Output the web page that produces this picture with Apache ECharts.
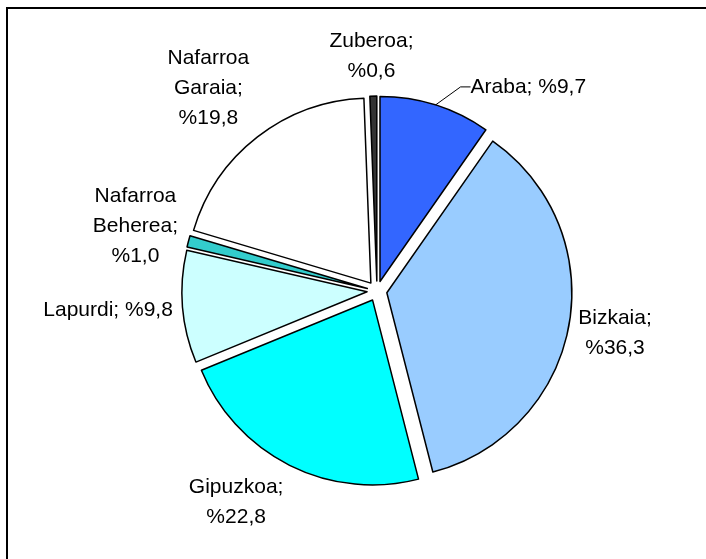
<!DOCTYPE html>
<html><head><meta charset="utf-8">
<script src="https://cdn.jsdelivr.net/npm/echarts@6/dist/echarts.min.js"></script>
<style>html,body{margin:0;padding:0;background:#fff}#c{width:706px;height:559px}</style>
</head><body><div id="c"></div>
<script>
// ---- data ----
const categories = ['Araba', 'Bizkaia', 'Gipuzkoa', 'Lapurdi', 'Nafarroa Beherea', 'Nafarroa Garaia', 'Zuberoa'];
const shares = [9.7, 36.3, 22.8, 9.8, 1.0, 19.8, 0.6];
const colors = ['#3366FF', '#99CCFF', '#00FFFF', '#CCFFFF', '#33CCCC', '#FFFFFF', '#333333'];

// ---- label text (line breaks) ----
const labelNames = ['Araba', 'Bizkaia', 'Gipuzkoa', 'Lapurdi', 'Nafarroa\nBeherea', 'Nafarroa\nGaraia', 'Zuberoa'];
const labelSeps = [' ', '\n', '\n', ' ', '\n', '\n', '\n'];

// ---- layout config ----
const CX = 377, CY = 291, R = 185, OFF = 10, GAP = 5;
const labelNudge = [[74, 1], [5, 1], [-30, 6], [-5, 2], [-7, -2], [-21, -9], [-1, -5]];

const total = shares.reduce((a, b) => a + b, 0);
let acc = 0;
const mids = shares.map(v => { const m = (acc + v / 2) / total * 2 * Math.PI; acc += v; return m; });

const chart = echarts.init(document.getElementById('c'));
chart.setOption({
  animation: false,
  backgroundColor: '#fff',
  graphic: [{
    type: 'rect', silent: true, z: 100,
    shape: {x: 7, y: 8, width: 760, height: 620},
    style: {fill: 'none', stroke: '#000', lineWidth: 2}
  }],
  // one pie per slice so that each slice is pulled out along its own bisector
  series: shares.map((_, k) => ({
    type: 'pie',
    name: categories[k],
    center: [CX + OFF * Math.sin(mids[k]), CY - OFF * Math.cos(mids[k])],
    radius: R,
    startAngle: 90,
    clockwise: true,
    avoidLabelOverlap: false,
    silent: true,
    emphasis: {disabled: true},
    label: {
      show: false, position: 'outside',
      fontFamily: 'Liberation Sans, Arial, sans-serif', fontSize: 21, lineHeight: 30, color: '#000',
      formatter: p => labelNames[p.dataIndex] + ';' + labelSeps[p.dataIndex] + '%' + p.value.toFixed(1).replace('.', ',')
    },
    labelLine: {show: false, length: 8, length2: 10, lineStyle: {color: '#000', width: 1}},
    labelLayout: function (p) {
      const i = p.dataIndex;
      const a = mids[i];
      const ux = Math.sin(a), uy = -Math.cos(a);
      const w = p.labelRect.width, h = p.labelRect.height;
      const D = R + OFF + GAP;
      return {
        x: CX + ux * D + ux * w / 2 + labelNudge[i][0],
        y: CY + uy * D + uy * h / 2 + labelNudge[i][1],
        align: 'center', verticalAlign: 'middle'
      };
    },
    data: shares.map((v, i) => i === k
      ? {name: categories[i], value: v,
         itemStyle: {color: colors[i], borderColor: '#000', borderWidth: 1.5},
         label: {show: true}, labelLine: {show: i === 0}}
      : {name: categories[i], value: v,
         itemStyle: {color: 'rgba(0,0,0,0)', borderWidth: 0}})
  }))
});
</script></body></html>
